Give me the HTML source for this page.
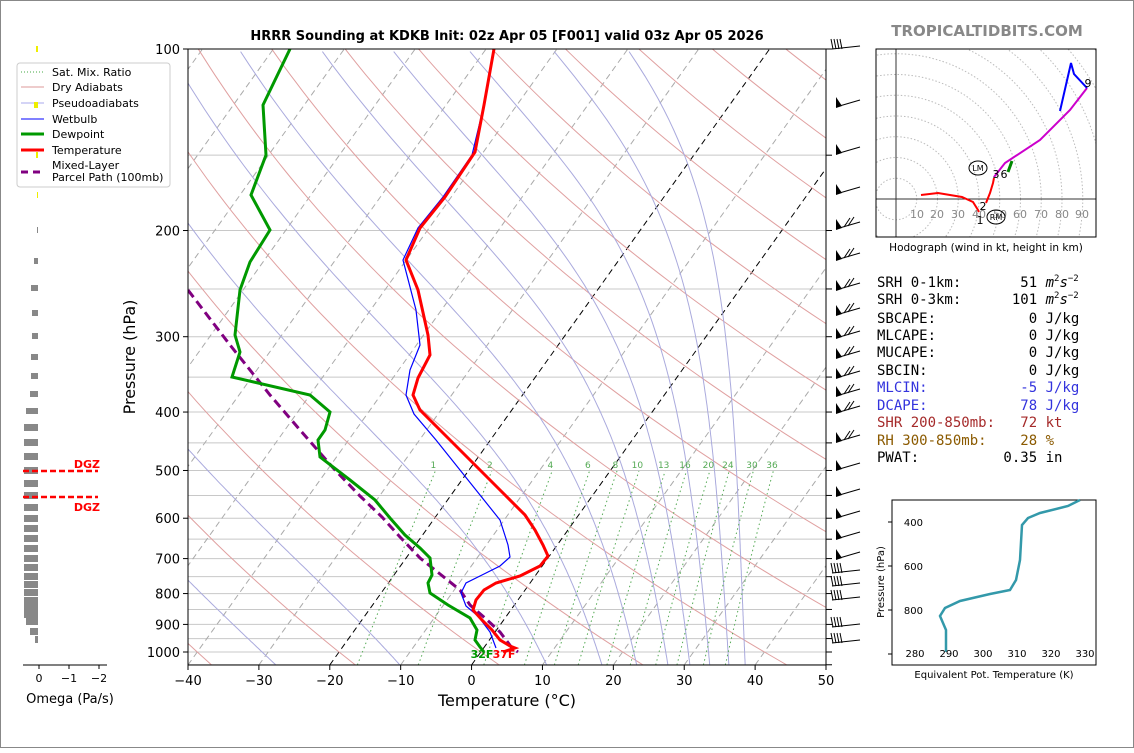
<!DOCTYPE html>
<html><head><meta charset="utf-8"><style>
body{margin:0;background:#fff;}
svg text{font-family:"DejaVu Sans","Liberation Sans",sans-serif;}
svg text.m{font-family:"DejaVu Sans Mono","Liberation Mono",monospace;}
</style></head><body>
<svg id="s" width="1134" height="748" xmlns="http://www.w3.org/2000/svg">
<rect x="0.5" y="0.5" width="1133" height="747" fill="#fff" stroke="#888"/>
<defs><clipPath id="cp"><rect x="188" y="49" width="638" height="616"/></clipPath>
<clipPath id="hc"><rect x="876" y="49" width="220" height="188"/></clipPath></defs>
<g id="bg" clip-path="url(#cp)"></g>
<g clip-path="url(#cp)">
<polyline fill="none" stroke="#800080" stroke-width="3" stroke-dasharray="9,5" points="188,290 230,345 270,395 300,430 335,470 360,496 382,517 400,537 420,558 440,574 460,590 470,605 485,618 500,632 512,648 518,652"/>
<polyline fill="none" stroke="#0000ff" stroke-width="1.2" points="494,49 484,105 472,155 443,197 418,228 403,260 416,310 420,345 410,370 406,395 414,414 436,440 460,470 484,500 500,520 508,545 510,557 500,566 480,576 466,583 461,593 466,606 478,616 490,632 496,648"/>
<polyline fill="none" stroke="#009900" stroke-width="3" points="290,49 263,105 266,155 251,195 270,230 250,262 240,290 235,335 240,352 232,377 310,395 330,412 325,430 318,440 320,457 350,480 375,500 390,518 405,535 420,548 430,558 432,575 428,583 430,593 448,605 470,618 477,630 475,640 480,647 484,652"/>
<polyline fill="none" stroke="#ff0000" stroke-width="3" points="494,49 484,105 475,152 445,197 420,228 406,260 418,290 428,335 430,355 418,378 413,395 420,410 440,430 470,460 500,490 525,515 535,530 543,545 548,556 540,566 520,576 496,583 484,590 476,600 473,610 482,620 492,630 500,640 510,646 515,648 503,652"/>
</g>
<text x="482" y="658" fill="#009900" font-size="11" font-weight="bold" text-anchor="middle">32F</text>
<text x="504" y="658" fill="#ff0000" font-size="11" font-weight="bold" text-anchor="middle">37F</text>
<rect x="188" y="49" width="638" height="616" fill="none" stroke="#000"/>
<g id="ax"></g>
<text x="507" y="40" font-size="13" font-weight="bold" text-anchor="middle">HRRR Sounding at KDKB Init: 02z Apr 05 [F001] valid 03z Apr 05 2026</text>
<text x="507" y="706" font-size="16" text-anchor="middle">Temperature (°C)</text>
<text x="135" y="357" font-size="16" text-anchor="middle" transform="rotate(-90 135 357)">Pressure (hPa)</text>
<rect x="17" y="63" width="153" height="124" rx="3" fill="#fff" stroke="#ccc"/>
<g font-size="11">
<line x1="21" y1="72" x2="44" y2="72" stroke="#4a4" stroke-dasharray="1,2"/><text x="52" y="76">Sat. Mix. Ratio</text>
<line x1="21" y1="87" x2="44" y2="87" stroke="#d99" /><text x="52" y="91">Dry Adiabats</text>
<line x1="21" y1="103" x2="44" y2="103" stroke="#aae"/><text x="52" y="107">Pseudoadiabats</text>
<line x1="21" y1="119" x2="44" y2="119" stroke="#00f"/><text x="52" y="123">Wetbulb</text>
<line x1="21" y1="134" x2="44" y2="134" stroke="#009900" stroke-width="3"/><text x="52" y="138">Dewpoint</text>
<line x1="21" y1="150" x2="44" y2="150" stroke="#f00" stroke-width="3"/><text x="52" y="154">Temperature</text>
<line x1="21" y1="172" x2="44" y2="172" stroke="#800080" stroke-width="3" stroke-dasharray="7,5"/><text x="52" y="169">Mixed-Layer</text><text x="52" y="181">Parcel Path (100mb)</text>
</g>
<g id="om"></g>
<line x1="23" y1="471" x2="98" y2="471" stroke="#f00" stroke-width="2.5" stroke-dasharray="6,3"/>
<line x1="23" y1="497" x2="98" y2="497" stroke="#f00" stroke-width="2.5" stroke-dasharray="6,3"/>
<text x="100" y="468" fill="#f00" font-size="11" font-weight="bold" text-anchor="end">DGZ</text>
<text x="100" y="511" fill="#f00" font-size="11" font-weight="bold" text-anchor="end">DGZ</text>
<g font-size="11" text-anchor="middle"><line x1="39" y1="665" x2="39" y2="669" stroke="#000"/><text x="39" y="682">0</text>
<line x1="69" y1="665" x2="69" y2="669" stroke="#000"/><text x="69" y="682">−1</text>
<line x1="99" y1="665" x2="99" y2="669" stroke="#000"/><text x="99" y="682">−2</text></g>
<text x="70" y="703" font-size="13" text-anchor="middle">Omega (Pa/s)</text>
<g id="barbs"></g>
<text x="987" y="36" font-size="15" font-weight="bold" fill="#888" text-anchor="middle">TROPICALTIDBITS.COM</text>
<g clip-path="url(#hc)" id="hodo"></g>
<g clip-path="url(#hc)">
<line x1="896" y1="49" x2="896" y2="237" stroke="#333"/><line x1="876" y1="199" x2="1096" y2="199" stroke="#333"/>
<polyline fill="none" stroke="#f00" stroke-width="2" points="921,195 938,193 950,195 962,197 973,202 978,210 979,212"/>
<polyline fill="none" stroke="#f00" stroke-width="2" points="986,203 990,193 993,183 994,178"/>
<polyline fill="none" stroke="#c0c" stroke-width="2" points="994,177 1005,163 1040,140 1070,110 1087,88"/>
<polyline fill="none" stroke="#00f" stroke-width="2" points="1087,88 1074,74 1071,63 1060,111"/>
<polyline fill="none" stroke="#080" stroke-width="3" points="1008,172 1012,161"/>
<g font-size="11" fill="#888" text-anchor="middle"><text x="917" y="218">10</text><text x="937" y="218">20</text><text x="958" y="218">30</text><text x="979" y="218">40</text><text x="1000" y="218">50</text><text x="1020" y="218">60</text><text x="1041" y="218">70</text><text x="1062" y="218">80</text><text x="1082" y="218">90</text></g>
<g font-size="11" text-anchor="middle"><text x="983" y="210">2</text><text x="980" y="224">1</text><text x="996" y="178">3</text><text x="1004" y="178">6</text><text x="1088" y="87">9</text></g>
<ellipse cx="978" cy="168" rx="9" ry="7" fill="none" stroke="#000"/><text x="978" y="171" font-size="8" text-anchor="middle">LM</text>
<ellipse cx="996" cy="217" rx="9" ry="7" fill="none" stroke="#000"/><text x="996" y="220" font-size="8" text-anchor="middle">RM</text>
</g>
<rect x="876" y="49" width="220" height="188" fill="none" stroke="#000"/>
<text x="986" y="251" font-size="10.5" text-anchor="middle">Hodograph (wind in kt, height in km)</text>
<g font-size="14">
<text class="m" x="877" y="287" xml:space="preserve">SRH 0-1km:       51 <tspan font-style="italic">m</tspan><tspan font-size="9" dy="-6">2</tspan><tspan font-style="italic" dy="6">s</tspan><tspan font-size="9" dy="-6">−2</tspan></text>
<text class="m" x="877" y="304" xml:space="preserve">SRH 0-3km:      101 <tspan font-style="italic">m</tspan><tspan font-size="9" dy="-6">2</tspan><tspan font-style="italic" dy="6">s</tspan><tspan font-size="9" dy="-6">−2</tspan></text>
<text class="m" x="877" y="323" xml:space="preserve">SBCAPE:           0 J/kg</text>
<text class="m" x="877" y="340" xml:space="preserve">MLCAPE:           0 J/kg</text>
<text class="m" x="877" y="357" xml:space="preserve">MUCAPE:           0 J/kg</text>
<text class="m" x="877" y="375" xml:space="preserve">SBCIN:            0 J/kg</text>
<text class="m" x="877" y="392" xml:space="preserve" fill="#3333dd">MLCIN:           -5 J/kg</text>
<text class="m" x="877" y="410" xml:space="preserve" fill="#3333dd">DCAPE:           78 J/kg</text>
<text class="m" x="877" y="427" xml:space="preserve" fill="#a52a2a">SHR 200-850mb:   72 kt</text>
<text class="m" x="877" y="445" xml:space="preserve" fill="#8b5a00">RH 300-850mb:    28 %</text>
<text class="m" x="877" y="462" xml:space="preserve">PWAT:          0.35 in</text>
</g>
<rect x="892" y="500" width="204" height="165" fill="none" stroke="#000"/>
<polyline fill="none" stroke="#3399aa" stroke-width="2.5" points="1080,500 1068,506 1040,513 1028,518 1022,525 1020,560 1016,580 1010,590 990,594 960,601 945,608 940,616 946,630 946,652"/>
<g font-size="10" text-anchor="end"><text x="923" y="526">400</text><text x="923" y="570">600</text><text x="923" y="614">800</text>
<line x1="892" y1="522" x2="888" y2="522" stroke="#000"/><line x1="892" y1="566" x2="888" y2="566" stroke="#000"/><line x1="892" y1="610" x2="888" y2="610" stroke="#000"/><line x1="892" y1="654" x2="888" y2="654" stroke="#000"/></g>
<g font-size="10" text-anchor="middle"><text x="915" y="657">280</text><text x="949" y="657">290</text><text x="983" y="657">300</text><text x="1017" y="657">310</text><text x="1051" y="657">320</text><text x="1085" y="657">330</text></g>
<text x="994" y="678" font-size="10" text-anchor="middle">Equivalent Pot. Temperature (K)</text>
<text x="884" y="582" font-size="10" text-anchor="middle" transform="rotate(-90 884 582)">Pressure (hPa)</text>
</svg>
<script>
var NS="http://www.w3.org/2000/svg";
function el(p,t,a){var e=document.createElementNS(NS,t);for(var k in a)e.setAttribute(k,a[k]);document.getElementById(p).appendChild(e);return e;}
function Y(p){return 49+603*Math.log10(p/100);}
function X(T,p){var y=Y(p);return 188+(T+40)*7.089+(665-y)*0.714;}
function line(g,pts,st){el(g,"polyline",Object.assign({points:pts.map(function(q){return q[0].toFixed(1)+","+q[1].toFixed(1)}).join(" "),fill:"none"},st));}
var ps=[];for(var p=1051;p>=100;p*=0.97)ps.push(p);ps.push(100);
for(var p=100;p<=1050;p+=50){el("bg","line",{x1:188,x2:826,y1:Y(p),y2:Y(p),stroke:"#c8c8c8","stroke-width":1});}
for(var T=-140;T<=50;T+=10){var c=(T==0||T==-20)?"#000":"#aaa";el("bg","line",{x1:X(T,1051),y1:665,x2:X(T,100),y2:49,stroke:c,"stroke-width":1,"stroke-dasharray":"6,4"});}
for(var th=-40;th<=240;th+=20){var pts=ps.map(function(p){var T=(th+273.15)*Math.pow(p/1000,0.2857)-273.15;return [X(T,p),Y(p)]});line("bg",pts,{stroke:"#e0a0a0","stroke-width":1});}
function es(T){return 6.112*Math.exp(17.67*T/(T+243.5));}
function gm(T,p){var Tk=T+273.15,r=0.622*es(T)/(p-es(T)),L=2.5e6;return (0.2857*Tk+L*r/1004)/p/(1+L*L*r*0.622/(1004*287*Tk*Tk));}
[-27.6,-10.1,10.6,18.4,23.3,27.7,30.8,33.6,36.3,38.6].forEach(function(t0){var T=t0,pts=[];for(var p=1051;p>=100;p-=5){pts.push([X(T,p),Y(p)]);T-=gm(T,p)*5;if(T<-110)break;}
line("bg",pts,{stroke:"#aaaadd","stroke-width":1});});
var ws=[1,2,4,6,8,10,13,16,20,24,30,36];
ws.forEach(function(w){var pts=[];for(var p=1051;p>=500;p-=10){var e=w*p/(622+w),l=Math.log(e/6.112),Td=243.5*l/(17.67-l);pts.push([X(Td,p)+3,Y(p)]);}
line("bg",pts,{stroke:"#55aa55","stroke-width":1,"stroke-dasharray":"1.5,3"});
var e=w*510/(622+w),l=Math.log(e/6.112),Td=243.5*l/(17.67-l);var t=el("bg","text",{x:X(Td,510)+3,y:468,"font-size":9,fill:"#55aa55","text-anchor":"middle"});t.textContent=w;});
[[100,"100"],[200,"200"],[300,"300"],[400,"400"],[500,"500"],[600,"600"],[700,"700"],[800,"800"],[900,"900"],[1000,"1000"]].forEach(function(a){var y=Y(a[0]);el("ax","line",{x1:183,x2:188,y1:y,y2:y,stroke:"#000"});var t=el("ax","text",{x:180,y:y+5,"font-size":13,"text-anchor":"end"});t.textContent=a[1];});
for(var p=100;p<=1050;p+=50){var y=Y(p);el("ax","line",{x1:826,x2:832,y1:y,y2:y,stroke:"#000"});}
for(var T=-40;T<=50;T+=10){var x=188+(T+40)*7.089;el("ax","line",{x1:x,x2:x,y1:665,y2:670,stroke:"#000"});var t=el("ax","text",{x:x,y:685,"font-size":13,"text-anchor":"middle"});t.textContent=(T<0?"−"+(-T):T);}
var ob=[[49,2,"#ee0"],[105,4,"#ee0"],[155,2,"#ee0"],[195,1,"#ee0"],[230,1,"#888"],[261,4,"#888"],[288,7,"#888"],[313,6,"#888"],[336,6,"#888"],[357,7,"#888"],[376,7,"#888"],[394,8,"#888"],[411,12,"#888"],[427,14,"#888"],[442,14,"#888"],[456,14,"#888"],[470,14,"#888"],[483,14,"#888"],[495,14,"#888"],[507,14,"#888"],[518,14,"#888"],[528,14,"#888"],[538,14,"#888"],[548,14,"#888"],[558,14,"#888"],[567,14,"#888"],[576,14,"#888"],[584,14,"#888"],[592,14,"#888"],[600,14,"#888"],[607,14,"#888"],[614,14,"#888"],[621,12,"#888"],[631,8,"#888"],[639,3,"#888"]];
ob.forEach(function(b){el("om","rect",{x:38-b[1],y:b[0]-3,width:b[1],height:(b[0]>420?7:6),fill:b[2]});});
el("om","line",{x1:23,x2:107,y1:665,y2:665,stroke:"#000"});
var by=[49,105,152,192,227,258,288,313,336,356,376,394,411,440,468,494,516,537,557,573,586,600,627,643];
by.forEach(function(y,i){var g="barbs";if(i<1||i>18){el(g,"line",{x1:832,y1:y,x2:860,y2:y-3,stroke:"#000"});for(var k=0;k<4;k++)el(g,"line",{x1:833+k*3,y1:y,x2:831+k*3,y2:y-10,stroke:"#000"});}
else{el(g,"line",{x1:836,y1:y+2,x2:860,y2:y-5,stroke:"#000"});el(g,"polygon",{points:(836)+","+(y+3)+" "+(842)+","+(y+1)+" "+(836)+","+(y-8),fill:"#000"});if(i>3&&i<14){el(g,"line",{x1:844,y1:y,x2:850,y2:y-9,stroke:"#000"});el(g,"line",{x1:848,y1:y-1,x2:854,y2:y-10,stroke:"#000"});}}});
for(var r=1;r<=12;r++)el("hodo","circle",{cx:896,cy:199,r:r*20.75,fill:"none",stroke:"#bbb","stroke-dasharray":"1.5,2"});
</script>
</body></html>
